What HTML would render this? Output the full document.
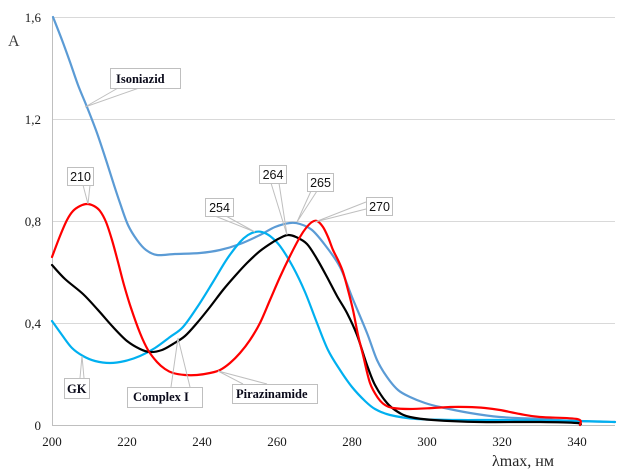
<!DOCTYPE html>
<html><head><meta charset="utf-8"><style>
html,body{margin:0;padding:0;background:#fff;}
svg{display:block;}
.t{font-family:"Liberation Serif",serif;font-size:13px;fill:#1a1a1a;}
.lb{font-family:"Liberation Serif",serif;font-size:12.5px;font-weight:bold;fill:#0a0a1a;}
.ls{font-family:"Liberation Sans",sans-serif;font-size:12.5px;fill:#111;}
</style></head><body>
<svg width="622" height="469" viewBox="0 0 622 469" xmlns="http://www.w3.org/2000/svg">
<rect width="622" height="469" fill="#fff"/>
<!-- grid -->
<g stroke="#d9d9d9" stroke-width="1">
<line x1="52" y1="17.5" x2="615" y2="17.5"/>
<line x1="52" y1="119.5" x2="615" y2="119.5"/>
<line x1="52" y1="221.5" x2="615" y2="221.5"/>
<line x1="52" y1="323.5" x2="615" y2="323.5"/>
</g>
<line x1="52" y1="425.5" x2="615" y2="425.5" stroke="#bfbfbf"/>
<line x1="52.5" y1="17" x2="52.5" y2="425" stroke="#bfbfbf"/>
<!-- y ticks -->
<text class="t" x="41" y="22" text-anchor="end">1,6</text>
<text class="t" x="41" y="124" text-anchor="end">1,2</text>
<text class="t" x="41" y="226" text-anchor="end">0,8</text>
<text class="t" x="41" y="328" text-anchor="end">0,4</text>
<text class="t" x="41" y="430" text-anchor="end">0</text>
<!-- x ticks -->
<text class="t" x="52" y="446" text-anchor="middle">200</text>
<text class="t" x="127" y="446" text-anchor="middle">220</text>
<text class="t" x="202" y="446" text-anchor="middle">240</text>
<text class="t" x="277" y="446" text-anchor="middle">260</text>
<text class="t" x="352" y="446" text-anchor="middle">280</text>
<text class="t" x="427" y="446" text-anchor="middle">300</text>
<text class="t" x="502" y="446" text-anchor="middle">320</text>
<text class="t" x="577" y="446" text-anchor="middle">340</text>
<!-- axis titles -->
<text x="8" y="46" style="font-family:'Liberation Serif',serif;font-size:16px;fill:#404040">A</text>
<text x="492" y="466" style="font-family:'Liberation Serif',serif;font-size:16px;fill:#262626">λmax, нм</text>

<!-- series -->
<g id="series" fill="none" stroke-width="2.2" stroke-linejoin="round" stroke-linecap="round">
<polyline stroke="#5b9bd5" points="53,17 62,40 70,62 78,85 87,107 97,133 107,163 114,185 120,203 128,225 137,240 146,250 157,255 175,254 200,253 220,250 240,244 260,235 275,227 290,223 300,224 312,230 325,245 340,267 352,297 367,333 377,360 387,377 398,390 410,397 425,403 440,407 470,413 500,417 540,419 577,421 615,422"/>
<polyline stroke="#00b0f0" points="52,321 62,335 72,348 83,356 95,361 110,363 125,361 140,356 155,348 170,337 183,327 198,306 213,282 227,259 240,242 248,235 255,232 262,232 270,236 280,246 293,267 305,292 317,323 328,350 340,370 352,387 365,401 375,409 390,415 417,419 460,420 500,420 577,421 615,422"/>
<polyline stroke="#000000" points="52,265 65,279 83,294 98,310 113,327 127,341 140,349 150,352 162,350 173,344 185,336 197,323 210,307 223,290 235,276 247,263 260,251 273,242 282,237 288,235 296,237 307,244 317,259 327,277 337,296 347,313 357,335 367,365 375,385 387,403 398,412 410,417 433,420 480,422 540,422 577,423 580,425"/>
<polyline stroke="#ff0000" points="52,257 60,236 67,220 73,211 80,206 87,204 94,206 100,211 106,222 112,240 118,262 124,285 131,308 140,333 148,350 157,362 165,369 173,373 185,375 197,375 210,373 220,370 230,363 240,353 250,340 260,323 270,300 280,277 290,256 300,237 306,228 312,222 317,221 323,227 328,237 333,250 338,260 343,272 348,290 353,310 358,335 363,355 370,383 378,398 385,405 393,408 410,409 433,408 450,407 467,407 485,408 500,410 520,414 540,417 577,419 580,425"/>
</g>

<!-- leader lines -->
<g stroke="#bfbfbf" stroke-width="1" fill="none">
<polyline points="118,88 85,107 139,88"/>
<polyline points="83,185 88,204 90,185"/>
<polyline points="215,216 255,232 226,216"/>
<polyline points="271,183 287,235 279,183"/>
<polyline points="311,191 297,222 317,191"/>
<polyline points="366,202 315,222 366,209"/>
<polyline points="80,378 82,356 84,378"/>
<polyline points="171,387 178,338 190,387"/>
<polyline points="267,384 218,371 243,384"/>
</g>

<!-- label boxes -->
<g fill="#fff" stroke="#bfbfbf" stroke-width="1">
<rect x="110.5" y="68.5" width="70" height="20"/>
<rect x="67.5" y="167.5" width="26" height="18"/>
<rect x="205.5" y="198.5" width="28" height="18"/>
<rect x="259.5" y="165.5" width="27" height="18"/>
<rect x="307.5" y="173.5" width="26" height="18"/>
<rect x="366.5" y="197.5" width="26" height="18"/>
<rect x="64.5" y="378.5" width="25" height="20"/>
<rect x="127.5" y="387.5" width="75" height="20"/>
<rect x="232.5" y="384.5" width="85" height="19"/>
</g>
<text class="lb" x="116" y="83">Isoniazid</text>
<text class="ls" x="80.5" y="181" text-anchor="middle">210</text>
<text class="ls" x="219.5" y="212" text-anchor="middle">254</text>
<text class="ls" x="273" y="179" text-anchor="middle">264</text>
<text class="ls" x="320.5" y="187" text-anchor="middle">265</text>
<text class="ls" x="379.5" y="211" text-anchor="middle">270</text>
<text class="lb" x="67" y="393">GK</text>
<text class="lb" x="133" y="401">Complex I</text>
<text class="lb" x="236" y="398">Pirazinamide</text>
</svg>
<script>
(function(){
  var g=document.getElementById('series');
  var pls=g.querySelectorAll('polyline');
  for(var i=0;i<pls.length;i++){
    var pl=pls[i];
    var pts=pl.getAttribute('points').trim().split(/\s+/).map(function(s){var a=s.split(',');return [+a[0],+a[1]];});
    var d='M'+pts[0][0]+','+pts[0][1];
    for(var k=0;k<pts.length-1;k++){
      var p0=pts[k>0?k-1:k],p1=pts[k],p2=pts[k+1],p3=pts[k+2<pts.length?k+2:k+1];
      var c1x=p1[0]+(p2[0]-p0[0])/6,c1y=p1[1]+(p2[1]-p0[1])/6;
      var c2x=p2[0]-(p3[0]-p1[0])/6,c2y=p2[1]-(p3[1]-p1[1])/6;
      d+=' C'+c1x.toFixed(2)+','+c1y.toFixed(2)+' '+c2x.toFixed(2)+','+c2y.toFixed(2)+' '+p2[0]+','+p2[1];
    }
    var p=document.createElementNS('http://www.w3.org/2000/svg','path');
    p.setAttribute('d',d);
    p.setAttribute('stroke',pl.getAttribute('stroke'));
    g.replaceChild(p,pl);
  }
})();
</script>
</body></html>
